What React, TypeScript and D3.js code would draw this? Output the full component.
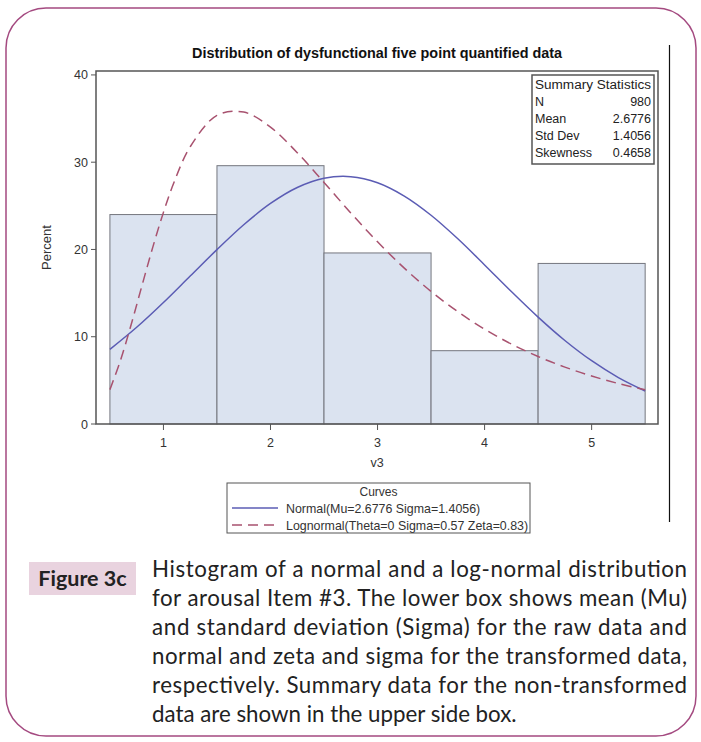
import React from "react";
import * as d3 from "d3";

const TITLE = "Distribution of dysfunctional five point quantified data";
const CATEGORIES = [1, 2, 3, 4, 5];
const PERCENTS = [24.0, 29.6, 19.6, 8.4, 18.4];
const Y_TICKS = [0, 10, 20, 30, 40];

const NORMAL_X = [0.5, 0.75, 1.0, 1.25, 1.5, 1.75, 2.0, 2.25, 2.5, 2.75, 3.0, 3.25, 3.5, 3.75, 4.0, 4.25, 4.5, 4.75, 5.0, 5.25, 5.5];
const NORMAL_Y = [8.55, 11.08, 13.92, 16.95, 19.98, 22.83, 25.27, 27.1, 28.16, 28.34, 27.65, 26.12, 23.92, 21.22, 18.23, 15.18, 12.25, 9.57, 7.25, 5.32, 3.78];

const LOGN_X = [0.5, 0.6, 0.7, 0.8, 0.9, 1.0, 1.1, 1.25, 1.5, 1.75, 2.0, 2.25, 2.5, 2.75, 3.0, 3.25, 3.5, 3.75, 4.0, 4.25, 4.5, 4.75, 5.0, 5.25, 5.5];
const LOGN_Y = [3.94, 7.34, 11.45, 15.88, 20.24, 24.25, 27.73, 31.77, 35.36, 35.74, 34.01, 31.09, 27.68, 24.19, 20.88, 17.86, 15.19, 12.87, 10.87, 9.17, 7.73, 6.52, 5.5, 4.64, 3.92];

const STATS_LABELS = ["N", "Mean", "Std Dev", "Skewness"];
const STATS_VALUES = ["980", "2.6776", "1.4056", "0.4658"];

const LEGEND_LABELS = [
  "Normal(Mu=2.6776 Sigma=1.4056)",
  "Lognormal(Theta=0 Sigma=0.57 Zeta=0.83)",
];

const CAPTION_LINES = [
  "Histogram of a normal and a log-normal distribution",
  "for arousal Item #3. The lower box shows mean (Mu)",
  "and standard deviation (Sigma) for the raw data and",
  "normal and zeta and sigma for the transformed data,",
  "respectively. Summary data for the non-transformed",
  "data are shown in the upper side box.",
];

const NORMAL_COLOR = "#5b5cb4";
const LOGN_COLOR = "#a8526f";
const SAS_FONT = "'Liberation Sans', Arial, sans-serif";
const CAP_FONT = "Lato, 'Open Sans', sans-serif";

export default function App() {
  const W = 701;
  const H = 742;
  const frame = { left: 96, top: 71, right: 658, bottom: 424 };
  const x = d3.scaleLinear().domain([0.37, 5.62]).range([frame.left, frame.right]);
  const y = d3.scaleLinear().domain([0, 40.45]).range([frame.bottom, frame.top]);

  const line = d3
    .line<[number, number]>()
    .x((d) => x(d[0]))
    .y((d) => y(d[1]))
    .curve(d3.curveCatmullRom.alpha(0.5));

  const normalPath = line(NORMAL_X.map((v, i) => [v, NORMAL_Y[i]] as [number, number])) || "";
  const lognPath = line(LOGN_X.map((v, i) => [v, LOGN_Y[i]] as [number, number])) || "";

  const statsBox = { x: 532, y: 75, w: 122, h: 89 };
  const legendBox = { x: 227, y: 483, w: 303, h: 50 };

  return (
    <svg width={W} height={H} style={{ display: "block", position: "absolute", left: 0, top: 0 }}>
      <rect x={0} y={0} width={W} height={H} fill="#fff" />
      {/* outer rounded border */}
      <rect x={6} y={8} width={690} height={728} rx={40} ry={40} fill="none" stroke="#a44a80" strokeWidth={1.5} />
      {/* vertical page rule */}
      <line x1={669.5} x2={669.5} y1={45} y2={522} stroke="#111" strokeWidth={1.2} />

      {/* title */}
      <text x={377} y={58} textAnchor="middle" fontFamily={SAS_FONT} fontWeight="bold" fontSize={14} textLength={370} lengthAdjust="spacingAndGlyphs" fill="#111">
        {TITLE}
      </text>

      {/* bars */}
      {CATEGORIES.map((c, i) => (
        <rect
          key={c}
          x={x(c - 0.5)}
          y={y(PERCENTS[i])}
          width={x(c + 0.5) - x(c - 0.5)}
          height={y(0) - y(PERCENTS[i])}
          fill="#dbe3f0"
          stroke="#74767e"
          strokeWidth={1}
        />
      ))}

      {/* curves */}
      <path d={normalPath} fill="none" stroke={NORMAL_COLOR} strokeWidth={1.5} />
      <path d={lognPath} fill="none" stroke={LOGN_COLOR} strokeWidth={1.5} strokeDasharray="10,6" />

      {/* frame */}
      <rect x={frame.left} y={frame.top} width={frame.right - frame.left} height={frame.bottom - frame.top} fill="none" stroke="#555" strokeWidth={1.5} />

      {/* y ticks */}
      {Y_TICKS.map((t) => (
        <g key={t}>
          <line x1={frame.left - 5} x2={frame.left} y1={y(t)} y2={y(t)} stroke="#555" strokeWidth={1} />
          <text x={frame.left - 8} y={y(t) + 4.5} textAnchor="end" fontFamily={SAS_FONT} fontSize={12.5} fill="#333">
            {t}
          </text>
        </g>
      ))}
      <text transform={`translate(51,${(frame.top + frame.bottom) / 2}) rotate(-90)`} textAnchor="middle" fontFamily={SAS_FONT} fontSize={13} fill="#333">
        Percent
      </text>

      {/* x ticks */}
      {CATEGORIES.map((c) => (
        <g key={c}>
          <line x1={x(c)} x2={x(c)} y1={frame.bottom} y2={frame.bottom + 6} stroke="#555" strokeWidth={1} />
          <text x={x(c)} y={frame.bottom + 23} textAnchor="middle" fontFamily={SAS_FONT} fontSize={12.5} fill="#333">
            {c}
          </text>
        </g>
      ))}
      <text x={(frame.left + frame.right) / 2} y={467} textAnchor="middle" fontFamily={SAS_FONT} fontSize={12.5} fill="#333">
        v3
      </text>

      {/* summary statistics */}
      <rect x={statsBox.x} y={statsBox.y} width={statsBox.w} height={statsBox.h} fill="#fff" stroke="#555" strokeWidth={1.5} />
      <text x={statsBox.x + 3} y={statsBox.y + 14} fontFamily={SAS_FONT} fontSize={12.5} textLength={statsBox.w - 6} lengthAdjust="spacingAndGlyphs" fill="#222">
        Summary Statistics
      </text>
      {STATS_LABELS.map((lab, i) => (
        <g key={lab}>
          <text x={statsBox.x + 3} y={statsBox.y + 31 + i * 17} fontFamily={SAS_FONT} fontSize={12.5} fill="#222">
            {lab}
          </text>
          <text x={statsBox.x + statsBox.w - 3} y={statsBox.y + 31 + i * 17} textAnchor="end" fontFamily={SAS_FONT} fontSize={12.5} fill="#222">
            {STATS_VALUES[i]}
          </text>
        </g>
      ))}

      {/* legend */}
      <rect x={legendBox.x} y={legendBox.y} width={legendBox.w} height={legendBox.h} fill="#fff" stroke="#555" strokeWidth={1} />
      <text x={legendBox.x + legendBox.w / 2} y={legendBox.y + 13} textAnchor="middle" fontFamily={SAS_FONT} fontSize={12} fill="#333">
        Curves
      </text>
      {LEGEND_LABELS.map((lab, i) => (
        <g key={lab}>
          <line
            x1={legendBox.x + 5}
            x2={legendBox.x + 51}
            y1={legendBox.y + 25 + i * 17}
            y2={legendBox.y + 25 + i * 17}
            stroke={i === 0 ? NORMAL_COLOR : LOGN_COLOR}
            strokeWidth={1.5}
            strokeDasharray={i === 0 ? undefined : "10,6"}
          />
          <text x={legendBox.x + 59} y={legendBox.y + 29.5 + i * 17} fontFamily={SAS_FONT} fontSize={12.4} fill="#333">
            {lab}
          </text>
        </g>
      ))}

      {/* caption */}
      <rect x={29} y={562} width={107} height={33} fill="#e9d3df" />
      <text x={82.5} y={586} textAnchor="middle" fontFamily={CAP_FONT} fontWeight="bold" fontSize={21.5} fill="#222">
        Figure 3c
      </text>
      {CAPTION_LINES.map((ln, i) => (
        <text
          key={i}
          x={152}
          y={577 + i * 29}
          fontFamily={CAP_FONT}
          fontSize={22.3}
          fill="#222"
          textLength={i < CAPTION_LINES.length - 1 ? 535 : undefined}
          lengthAdjust="spacing"
        >
          {ln}
        </text>
      ))}
    </svg>
  );
}
